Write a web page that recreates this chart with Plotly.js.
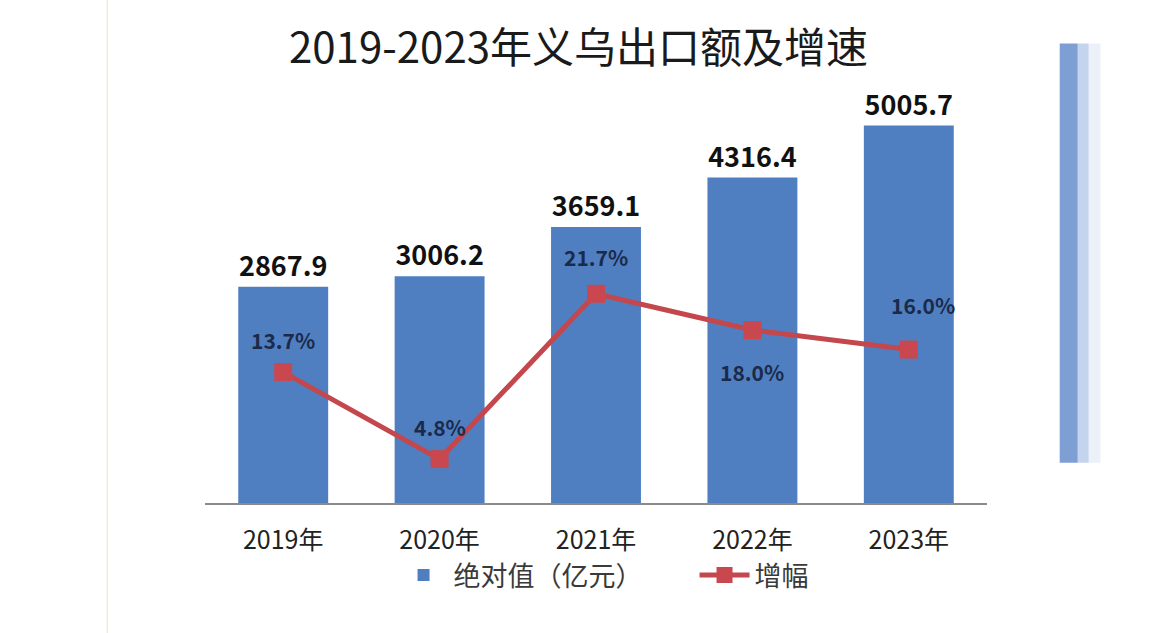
<!DOCTYPE html>
<html>
<head>
<meta charset="utf-8">
<script src="https://cdn.plot.ly/plotly-3.0.1.min.js"></script>
<style>html,body{margin:0;padding:0;background:#fff;}#chart{width:1170px;height:633px;}</style>
</head>
<body>
<div id="chart"></div>
<script>
const years = ['2019年', '2020年', '2021年', '2022年', '2023年'];
const exportValues = [2867.9, 3006.2, 3659.1, 4316.4, 5005.7];
const growthRates = [13.7, 4.8, 21.7, 18.0, 16.0];
const growthLabelShift = [32, 32, 37, -42, 45];
const growthLabelXShift = [0, 0, 0, 0, 14];

const FONT = '"Noto Sans CJK SC", "Noto Sans", sans-serif';

const barTrace = {
  type: 'bar',
  name: '绝对值（亿元）',
  x: years,
  y: exportValues,
  width: 0.575,
  marker: {color: '#4f7fc0'},
  text: exportValues.map(v => v.toFixed(1)),
  textposition: 'outside',
  cliponaxis: false,
  textfont: {family: FONT, size: 27, color: '#111', weight: 'bold'},
  hoverinfo: 'x+y'
};

const lineTrace = {
  type: 'scatter',
  mode: 'lines+markers',
  name: '增幅',
  x: years,
  y: growthRates,
  yaxis: 'y2',
  line: {color: '#c4474d', width: 5},
  marker: {symbol: 'square', size: 18, color: '#c9484f'},
  cliponaxis: false
};

const annotations = growthRates.map((v, i) => ({
  x: years[i], y: v, xref: 'x', yref: 'y2',
  text: v.toFixed(1) + '%',
  showarrow: false,
  yshift: growthLabelShift[i],
  xshift: growthLabelXShift[i],
  font: {family: FONT, size: 21, color: '#1c2a4a', weight: 'bold'}
}));

annotations.push({
  text: '2019-2023年义乌出口额及增速',
  xref: 'paper', yref: 'paper', x: 0.478, y: 1.137,
  xanchor: 'center', yanchor: 'middle',
  showarrow: false,
  font: {family: FONT, size: 42, color: '#1a1a1a'}
});

const layout = {
  width: 1170, height: 633,
  margin: {l: 205, r: 183, t: 100, b: 130},
  paper_bgcolor: '#ffffff',
  plot_bgcolor: 'rgba(0,0,0,0)',
  showlegend: true,
  font: {family: FONT},
  bargap: 0.425,
  xaxis: {
    type: 'category',
    range: [-0.5, 4.5],
    showgrid: false,
    showline: true,
    linecolor: '#8a8a8a',
    linewidth: 1.5,
    ticks: '',
    ticklabelstandoff: 14,
    tickfont: {family: FONT, size: 25, color: '#222'},
    fixedrange: true
  },
  yaxis: {
    range: [0, 5345],
    visible: false,
    showgrid: false,
    zeroline: false,
    fixedrange: true
  },
  yaxis2: {
    overlaying: 'y',
    side: 'right',
    range: [0.31, 41.52],
    visible: false,
    showgrid: false,
    zeroline: false,
    fixedrange: true
  },
  legend: {
    orientation: 'h',
    x: 0.626, xanchor: 'center',
    y: -0.18, yanchor: 'middle',
    font: {family: FONT, size: 27, color: '#3a3a3a'},
    itemwidth: 50,
    entrywidth: 236,
    bgcolor: 'rgba(0,0,0,0)'
  },
  annotations: annotations,
  shapes: [
    {type: 'line', xref: 'paper', yref: 'paper', x0: -0.125, x1: -0.125, y0: -0.33, y1: 1.25,
     line: {color: '#efeed8', width: 1.5}},
    {type: 'rect', xref: 'paper', yref: 'paper', x0: 1.093, x1: 1.116, y0: 0.10, y1 : 1.14,
     fillcolor: 'rgba(92,135,200,0.8)', line: {width: 0}},
    {type: 'rect', xref: 'paper', yref: 'paper', x0: 1.116, x1: 1.13, y0: 0.10, y1 : 1.14,
     fillcolor: 'rgba(140,170,220,0.5)', line: {width: 0}},
    {type: 'rect', xref: 'paper', yref: 'paper', x0: 1.13, x1: 1.145, y0: 0.10, y1 : 1.14,
     fillcolor: 'rgba(190,205,235,0.3)', line: {width: 0}}
  ]
};

Plotly.newPlot('chart', [barTrace, lineTrace], layout, {displayModeBar: false, staticPlot: true});
</script>
</body>
</html>
